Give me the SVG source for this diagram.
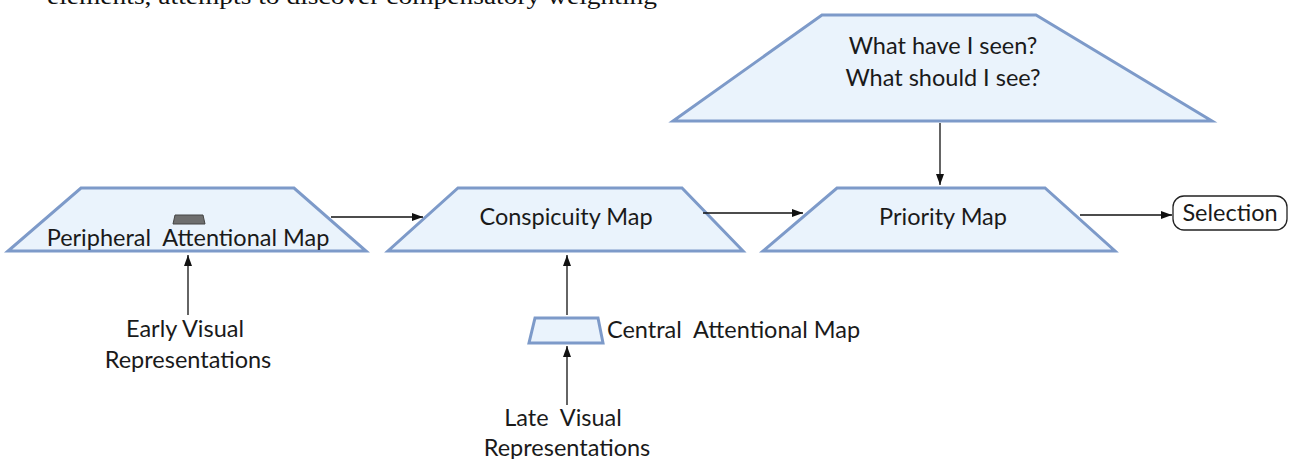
<svg xmlns="http://www.w3.org/2000/svg" width="1290" height="459" viewBox="0 0 1290 459">
<defs>
<marker id="ah" markerUnits="userSpaceOnUse" markerWidth="12" markerHeight="10" refX="11" refY="5" orient="auto">
<path d="M0,1 L11,5 L0,9 Z" fill="#111"/>
</marker>
<style>
.trap{fill:#eaf3fc;stroke:#7d9ac9;stroke-width:3;stroke-linejoin:miter}
.lbl{font-family:"Lato","Open Sans",sans-serif;fill:#1a1a1a;font-size:23.5px;white-space:pre}
.conn{stroke:#111;stroke-width:1.3;fill:none;marker-end:url(#ah)}
</style>
</defs>
<rect width="1290" height="459" fill="#fff"/>
<text x="47" y="4" font-family="Liberation Serif, serif" font-size="24" textLength="610" lengthAdjust="spacingAndGlyphs" fill="#111">elements, attempts to discover compensatory weighting</text>

<g id="top">
<polygon class="trap" points="822,15 1036,15 1212,121 673,121"/>
<text class="lbl" x="943" y="54" text-anchor="middle">What have I seen?</text>
<text class="lbl" x="943" y="86" text-anchor="middle">What should I see?</text>
</g>

<g id="peripheral">
<polygon class="trap" points="81,188 294,188 366,251 8,251"/>
<polygon points="175,215 203,215 205,224 173,224" fill="#6e6e6e" stroke="#444" stroke-width="1"/>
<text class="lbl" x="188" y="246" text-anchor="middle" xml:space="preserve">Peripheral  Attentional Map</text>
</g>

<g id="conspicuity">
<polygon class="trap" points="458,188 682,188 743,251 388,251"/>
<text class="lbl" x="566" y="225" text-anchor="middle">Conspicuity Map</text>
</g>

<g id="priority">
<polygon class="trap" points="837,188 1045,188 1115,251 763,251"/>
<text class="lbl" x="943" y="225" text-anchor="middle">Priority Map</text>
</g>

<g id="selection">
<rect x="1173" y="196" width="114" height="34" rx="11" fill="#fff" stroke="#222" stroke-width="1.3"/>
<text class="lbl" x="1230" y="221" text-anchor="middle">Selection</text>
</g>

<g id="central">
<polygon class="trap" points="535,318 598,318 603,343 529,343"/>
<text class="lbl" x="607" y="338" xml:space="preserve">Central  Attentional Map</text>
</g>

<g id="early">
<text class="lbl" x="185" y="337" text-anchor="middle">Early Visual</text>
<text class="lbl" x="188" y="368" text-anchor="middle">Representations</text>
</g>

<g id="late">
<text class="lbl" x="563" y="426" text-anchor="middle" xml:space="preserve">Late  Visual</text>
<text class="lbl" x="567" y="456" text-anchor="middle">Representations</text>
</g>

<g id="connectors">
<line class="conn" x1="331" y1="217" x2="423" y2="217"/>
<line class="conn" x1="703" y1="213" x2="803" y2="213"/>
<line class="conn" x1="1080" y1="215" x2="1172" y2="215"/>
<line class="conn" x1="940" y1="123" x2="940" y2="185"/>
<line class="conn" x1="188" y1="315" x2="188" y2="255"/>
<line class="conn" x1="567" y1="315" x2="567" y2="255"/>
<line class="conn" x1="567" y1="405" x2="567" y2="346"/>
</g>
</svg>
